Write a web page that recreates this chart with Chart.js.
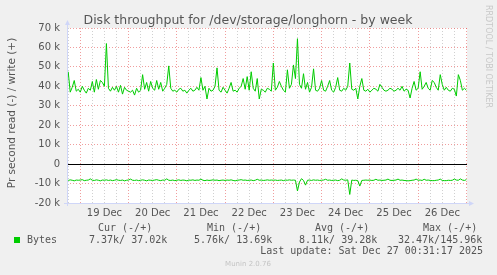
<!DOCTYPE html>
<html>
<head>
<meta charset="utf-8">
<title>Disk throughput for /dev/storage/longhorn - by week</title>
<script src="https://cdn.jsdelivr.net/npm/chart.js@4.4.1/dist/chart.umd.min.js"></script>
<style>
  html, body { margin: 0; padding: 0; background: #f0f0f0; }
  canvas { display: block; }
</style>
</head>
<body>
<canvas id="disk_week" width="497" height="275"></canvas>
<script>
const title = "Disk throughput for /dev/storage/longhorn - by week";
const yTitle = "Pr second read (-) / write (+)";
const dayLabels = ["19 Dec", "20 Dec", "21 Dec", "22 Dec", "23 Dec", "24 Dec", "25 Dec", "26 Dec"];

// hours since 19 Dec 00:00, one sample per hour
const hours = [];
for (let h = -6; h <= 192; h++) hours.push(h);

// write (+), k bytes per second
const write = [
  47.5, 37, 39.5, 43, 37.5, 38.5,
  37, 40, 38, 36.5, 39, 38, 42.5, 37, 43.5, 38.5, 43, 42,
  40, 62, 39, 37.5, 39.5, 38, 40, 37, 40.5, 36, 39.5, 38,
  37.5, 37, 38, 35.5, 39, 37, 38, 46, 38.5, 42, 37.5, 42.5,
  39, 38, 43, 38.5, 42, 37.5, 39, 41, 50.5, 39, 37.5, 38,
  37, 38.5, 39, 37.5, 38, 36.5, 38, 39, 37.5, 38, 39.5, 38,
  44.5, 38, 40, 33.5, 39, 37.5, 38, 40, 49.5, 38, 37, 39.5,
  38, 36.5, 39, 42, 37.5, 38, 37, 39, 40, 44, 38.5, 45,
  38, 47.5, 39, 37.5, 44, 33.5, 38.5, 38, 37, 39, 38.5, 37.5,
  52, 38, 39.5, 42.5, 40, 38, 37, 48.5, 39, 41, 51, 44,
  64.5, 41, 39, 46.5, 38.5, 42, 37, 39.5, 49, 38, 37.5, 39,
  43, 38, 37.5, 40, 43, 38, 37, 39.5, 44.5, 38, 37.5, 39,
  38, 40, 52, 38.5, 38, 39, 33.5, 40, 44, 38, 37.5, 38.5,
  37, 38, 39, 38.5, 37.5, 41, 39.5, 38, 37.5, 38, 39, 38.5,
  37.5, 38, 39, 38, 40, 37.5, 38.5, 38, 34, 39, 42.5, 38,
  39, 47.5, 38.5, 40, 42, 39, 38, 43, 42, 39.5, 38, 46,
  41, 38, 39.5, 38, 37.5, 39, 38.5, 35, 46, 43, 38, 39,
  38
];

// read (-), k bytes per second
const read = [
  -8.4, -8.1, -8.3, -8.6, -8.2, -8.3,
  -8.2, -8.0, -8.5, -8.3, -8.2, -7.6, -8.3, -8.4, -8.1, -8.3, -8.6, -8.2,
  -8.3, -8.1, -8.4, -8.2, -8.5, -8.3, -8.0, -8.3, -8.4, -8.2, -8.6, -8.3,
  -8.2, -7.7, -8.3, -8.4, -8.2, -8.5, -8.3, -8.1, -8.3, -8.6, -8.2, -8.3,
  -8.4, -8.2, -8.0, -8.3, -8.5, -8.2, -8.3, -7.6, -8.3, -8.4, -8.2, -8.5,
  -8.3, -8.1, -8.4, -8.2, -8.3, -8.6, -8.2, -8.3, -8.1, -8.4, -8.2, -8.3,
  -7.7, -8.3, -8.5, -8.2, -8.4, -8.3, -8.1, -8.3, -8.2, -8.5, -8.3, -8.2,
  -8.4, -8.2, -8.3, -8.1, -8.4, -8.6, -8.3, -8.2, -8.0, -8.3, -8.2, -8.4,
  -8.3, -8.2, -8.5, -8.3, -7.8, -8.3, -8.2, -8.4, -8.3, -8.1, -8.3, -8.2,
  -8.3, -8.2, -8.4, -8.3, -8.2, -8.5, -8.2, -8.3, -8.1, -8.3, -8.2, -8.3,
  -13.8, -9.2, -7.5, -8.4, -10.8, -8.3, -8.2, -8.4, -8.1, -8.3, -8.2, -8.4,
  -8.3, -8.2, -7.8, -8.3, -8.2, -8.4, -8.3, -8.2, -8.5, -8.3, -7.6, -8.2,
  -8.3, -8.1, -15.6, -8.2, -8.4, -8.3, -8.5, -11.3, -8.4, -8.3, -8.2, -8.3,
  -8.2, -8.4, -8.3, -7.8, -8.3, -8.2, -8.4, -8.3, -8.2, -7.7, -8.3, -8.4,
  -8.3, -8.2, -7.7, -8.3, -8.2, -8.4, -8.5, -8.6, -8.5, -8.3, -8.2, -7.7,
  -8.3, -8.2, -8.4, -7.8, -8.3, -8.2, -8.4, -8.5, -8.5, -8.3, -8.2, -7.7,
  -8.4, -8.5, -8.5, -8.3, -8.4, -8.3, -7.7, -8.2, -8.3, -7.6, -8.2, -8.4,
  -8.0
];

const legendHeads = ["Cur (-/+)", "Min (-/+)", "Avg (-/+)", "Max (-/+)"];
const legendVals = ["7.37k/ 37.02k", "5.76k/ 13.69k", "8.11k/ 39.28k", "32.47k/145.96k"];
const lastUpdate = "Last update: Sat Dec 27 00:31:17 2025";
const footer = "Munin 2.0.76";

const GREEN = "#00cc00";
const RED_GRID = "rgba(225, 60, 60, 0.5)";
const GREY_GRID = "rgba(150, 150, 150, 0.45)";
const AXIS = "#cfd6f8";
const FONT = "#555555";

const munin = {
  id: "munin",
  beforeDraw(chart) {
    const { ctx, chartArea: a } = chart;
    ctx.save();
    ctx.fillStyle = "#f0f0f0";
    ctx.fillRect(0, 0, chart.width, chart.height);
    ctx.fillStyle = "#ffffff";
    ctx.fillRect(a.left, a.top, a.right - a.left, a.bottom - a.top);
    ctx.restore();
  },
  beforeDatasetsDraw(chart) {
    const { ctx, chartArea: a } = chart;
    const y0 = Math.round(chart.scales.y.getPixelForValue(0)) + 0.5;
    ctx.save();
    ctx.strokeStyle = "#000";
    ctx.lineWidth = 1;
    ctx.beginPath();
    ctx.moveTo(a.left, y0);
    ctx.lineTo(a.right, y0);
    ctx.stroke();
    ctx.restore();
  },
  afterDraw(chart) {
    const { ctx, chartArea: a } = chart;
    ctx.save();
    // axes with arrows
    ctx.strokeStyle = AXIS;
    ctx.fillStyle = AXIS;
    ctx.lineWidth = 1;
    ctx.beginPath();
    ctx.moveTo(a.left + 0.5, a.bottom + 3);
    ctx.lineTo(a.left + 0.5, a.top - 4);
    ctx.moveTo(a.left - 3, a.bottom + 0.5);
    ctx.lineTo(a.right + 3, a.bottom + 0.5);
    ctx.stroke();
    ctx.beginPath();
    ctx.moveTo(a.left - 2, a.top - 3);
    ctx.lineTo(a.left + 3, a.top - 3);
    ctx.lineTo(a.left + 0.5, a.top - 8);
    ctx.fill();
    ctx.beginPath();
    ctx.moveTo(a.right + 2, a.bottom - 2);
    ctx.lineTo(a.right + 2, a.bottom + 3);
    ctx.lineTo(a.right + 7, a.bottom + 0.5);
    ctx.fill();

    // title
    ctx.fillStyle = FONT;
    ctx.font = '12.5px "DejaVu Sans"';
    ctx.textAlign = "center";
    ctx.textBaseline = "alphabetic";
    ctx.fillText(title, 248, 24);

    // vertical axis title
    ctx.save();
    ctx.translate(12, 113);
    ctx.rotate(-Math.PI / 2);
    ctx.font = '10.5px "DejaVu Sans"';
    ctx.textBaseline = "middle";
    ctx.fillText(yTitle, 0, 0);
    ctx.restore();

    // rrdtool credit
    ctx.save();
    ctx.translate(488, 5);
    ctx.rotate(Math.PI / 2);
    ctx.fillStyle = "#c8c8c8";
    ctx.font = '8px "DejaVu Sans"';
    ctx.textAlign = "left";
    ctx.textBaseline = "middle";
    ctx.fillText("RRDTOOL / TOBI OETIKER", 0, 0);
    ctx.restore();

    // legend
    ctx.font = '10px "DejaVu Sans Mono"';
    ctx.textAlign = "left";
    ctx.textBaseline = "middle";
    ctx.fillStyle = GREEN;
    ctx.fillRect(14, 237, 6, 6);
    ctx.fillStyle = FONT;
    ctx.fillText("Bytes", 27, 240);
    const headX = [98, 207, 315, 423];
    const valX = [89, 194, 299, 398];
    legendHeads.forEach((t, i) => ctx.fillText(t, headX[i], 228));
    legendVals.forEach((t, i) => ctx.fillText(t, valX[i], 240));
    ctx.textAlign = "right";
    ctx.fillText(lastUpdate, 483, 251.5);

    ctx.textAlign = "center";
    ctx.fillStyle = "#c4c4c4";
    ctx.font = '7px "DejaVu Sans"';
    ctx.fillText(footer, 248, 264);
    ctx.restore();
  }
};

const tickFont = { family: "DejaVu Sans", size: 10 };

new Chart(document.getElementById("disk_week").getContext("2d"), {
  type: "line",
  data: {
    labels: hours,
    datasets: [
      { label: "write", data: write, borderColor: GREEN, borderWidth: 1, pointRadius: 0, tension: 0, fill: false },
      { label: "read", data: read, borderColor: GREEN, borderWidth: 1, pointRadius: 0, tension: 0, fill: false }
    ]
  },
  options: {
    responsive: false,
    animation: false,
    devicePixelRatio: 1,
    layout: { padding: { left: 0, top: 28, right: 30, bottom: 52 } },
    plugins: { legend: { display: false }, tooltip: { enabled: false } },
    scales: {
      x: {
        type: "linear",
        min: -6.6,
        max: 192.3,
        afterBuildTicks: s => {
          const t = [];
          for (let h = -6; h <= 192; h += 6) t.push({ value: h });
          s.ticks = t;
        },
        afterFit: s => { s.height = 20; },
        grid: {
          drawTicks: false,
          lineWidth: 1,
          color: c => (c.tick && c.tick.value % 24 === 0 ? RED_GRID : GREY_GRID)
        },
        border: { display: false, dash: [1, 2] },
        ticks: {
          autoSkip: false,
          maxRotation: 0,
          padding: 4,
          color: FONT,
          font: tickFont,
          callback: v => (v % 24 === 12 ? dayLabels[(v - 12) / 24] : "")
        }
      },
      y: {
        min: -20,
        max: 70,
        afterBuildTicks: s => {
          const t = [];
          for (let v = -20; v <= 70; v += 5) t.push({ value: v });
          s.ticks = t;
        },
        afterFit: s => { s.width = 67; },
        grid: {
          drawTicks: false,
          lineWidth: 1,
          color: c => (c.tick && c.tick.value % 10 === 0 ? RED_GRID : GREY_GRID)
        },
        border: { display: false, dash: [1, 2] },
        ticks: {
          padding: 7,
          color: FONT,
          font: tickFont,
          callback: v => (v % 10 !== 0 ? "" : v === 0 ? "0" : v + " k")
        }
      }
    }
  },
  plugins: [munin]
});
</script>
</body>
</html>
